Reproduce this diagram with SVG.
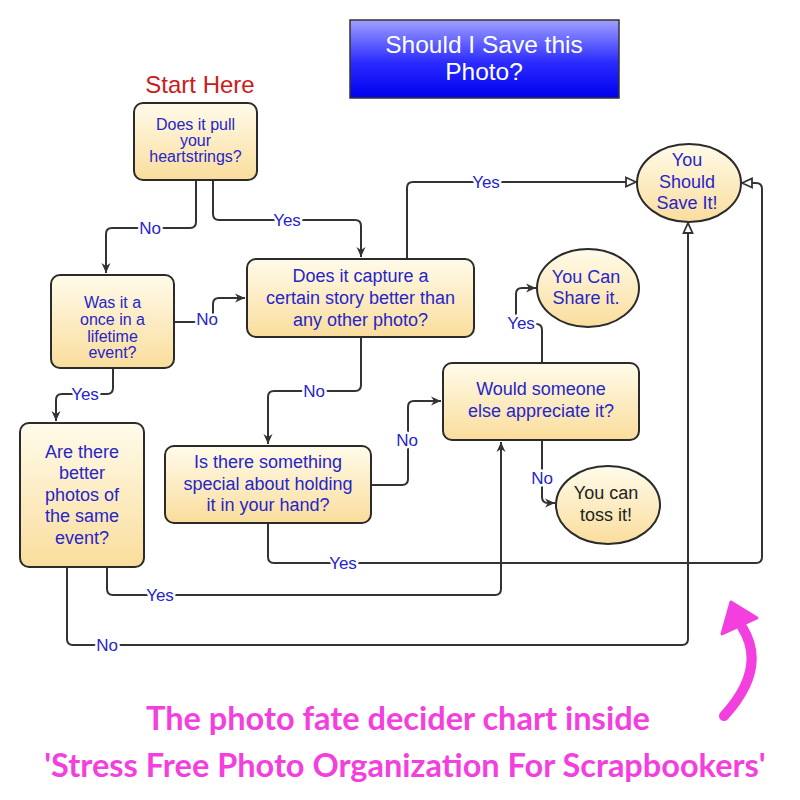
<svg xmlns="http://www.w3.org/2000/svg" width="800" height="800" viewBox="0 0 800 800">
<defs>
<linearGradient id="ng" x1="0" y1="0" x2="0" y2="1">
<stop offset="0" stop-color="#fffbea"/>
<stop offset="1" stop-color="#fadd9c"/>
</linearGradient>
<linearGradient id="tg" x1="0" y1="0" x2="0" y2="1">
<stop offset="0" stop-color="#a0a0ff"/>
<stop offset="0.55" stop-color="#2a2aff"/>
<stop offset="1" stop-color="#0000ee"/>
</linearGradient>
<marker id="a" markerUnits="userSpaceOnUse" markerWidth="12" markerHeight="12" viewBox="0 0 12 12" refX="11" refY="6" orient="auto">
<path d="M1,1.5 L11,6 L1,10.5 L4,6 z" fill="#333"/>
</marker>
<marker id="h" markerUnits="userSpaceOnUse" markerWidth="14" markerHeight="14" viewBox="0 0 14 14" refX="12" refY="7" orient="auto">
<path d="M2,2.5 L12,7 L2,11.5 z" fill="#fff" stroke="#333" stroke-width="1.8"/>
</marker>
<style>
.n{fill:url(#ng);stroke:#2b2b2b;stroke-width:2}
.t{font-family:"Liberation Sans",Arial,sans-serif;fill:#2626c8;text-anchor:middle}
.c{fill:none;stroke:#333;stroke-width:2}
.l{font-family:"Liberation Sans",Arial,sans-serif;font-size:17px;fill:#2626c8;text-anchor:middle;stroke:#fff;stroke-width:5;paint-order:stroke;stroke-linejoin:round}
.cap{font-family:Lato,"Open Sans",sans-serif;font-weight:bold;font-size:32.5px;fill:#f43fdf;text-anchor:middle}
</style>
</defs>
<rect width="800" height="800" fill="#fff"/>

<g id="title">
<rect x="350" y="20" width="269" height="78" fill="url(#tg)" stroke="#333" stroke-width="1.5"/>
<text x="484" y="53" font-family="'Liberation Sans',Arial,sans-serif" font-size="24.5" fill="#fff" text-anchor="middle">Should I Save this</text>
<text x="484" y="80" font-family="'Liberation Sans',Arial,sans-serif" font-size="24.5" fill="#fff" text-anchor="middle">Photo?</text>
</g>

<g id="start">
<text x="200" y="93" font-family="'Liberation Sans',Arial,sans-serif" font-size="24" fill="#cc1b1b" text-anchor="middle">Start Here</text>
</g>

<g id="connectors">
<path class="c" d="M196,180 V222 Q196,228 190,228 H112 Q106,228 106,234 V273" marker-end="url(#a)"/>
<path class="c" d="M213,180 V214 Q213,220 219,220 H355 Q361,220 361,226 V257" marker-end="url(#a)"/>
<path class="c" d="M174,322 H213 V304 Q213,298 219,298 H245" marker-end="url(#a)"/>
<path class="c" d="M113,368 V388 Q113,394 107,394 H62 Q56,394 56,400 V421" marker-end="url(#a)"/>
<path class="c" d="M407,259 V188 Q407,182 413,182 H636" marker-end="url(#h)"/>
<path class="c" d="M361,337 V385 Q361,391 355,391 H274 Q268,391 268,397 V444" marker-end="url(#a)"/>
<path class="c" d="M371,485 H402 Q408,485 408,479 V407 Q408,401 414,401 H441" marker-end="url(#a)"/>
<path class="c" d="M542,363 V330 Q542,324 536,324 H522 Q516,324 516,318 V294 Q516,288 522,288 H536" marker-end="url(#a)"/>
<path class="c" d="M542,440 V497 Q542,503 548,503 H555" marker-end="url(#a)"/>
<path class="c" d="M268,523 V557 Q268,563 274,563 H756 Q762,563 762,557 V189 Q762,183 756,183 H742" marker-end="url(#h)"/>
<path class="c" d="M107,567 V589 Q107,595 113,595 H495 Q501,595 501,589 V442" marker-end="url(#a)"/>
<path class="c" d="M67,567 V639 Q67,645 73,645 H682 Q688,645 688,639 V223" marker-end="url(#h)"/>
<text class="l" x="150" y="234">No</text>
<text class="l" x="287" y="226">Yes</text>
<text class="l" x="207" y="325">No</text>
<text class="l" x="85" y="400">Yes</text>
<text class="l" x="486" y="188">Yes</text>
<text class="l" x="314" y="397">No</text>
<text class="l" x="407" y="446">No</text>
<text class="l" x="521" y="329">Yes</text>
<text class="l" x="542" y="484">No</text>
<text class="l" x="343" y="569">Yes</text>
<text class="l" x="160" y="601">Yes</text>
<text class="l" x="107" y="651">No</text>
</g>

<g id="n1">
<rect class="n" x="134" y="103" width="123" height="77" rx="9"/>
<text class="t" font-size="16" x="195.5" y="130">Does it pull</text>
<text class="t" font-size="16" x="195.5" y="146">your</text>
<text class="t" font-size="16" x="195.5" y="162">heartstrings?</text>
</g>
<g id="n2">
<rect class="n" x="51" y="275" width="123" height="93" rx="9"/>
<text class="t" font-size="16" x="112.5" y="308">Was it a</text>
<text class="t" font-size="16" x="112.5" y="325">once in a</text>
<text class="t" font-size="16" x="112.5" y="342">lifetime</text>
<text class="t" font-size="16" x="112.5" y="358">event?</text>
</g>
<g id="n3">
<rect class="n" x="247" y="259" width="227" height="78" rx="9"/>
<text class="t" font-size="18" x="360.5" y="282">Does it capture a</text>
<text class="t" font-size="18" x="360.5" y="304">certain story better than</text>
<text class="t" font-size="18" x="360.5" y="326">any other photo?</text>
</g>
<g id="n4">
<rect class="n" x="20" y="423" width="124" height="144" rx="9"/>
<text class="t" font-size="18" x="82" y="458">Are there</text>
<text class="t" font-size="18" x="82" y="479">better</text>
<text class="t" font-size="18" x="82" y="501">photos of</text>
<text class="t" font-size="18" x="82" y="522">the same</text>
<text class="t" font-size="18" x="82" y="544">event?</text>
</g>
<g id="n5">
<rect class="n" x="165" y="446" width="206" height="77" rx="9"/>
<text class="t" font-size="18" x="268" y="468">Is there something</text>
<text class="t" font-size="18" x="268" y="490">special about holding</text>
<text class="t" font-size="18" x="268" y="511">it in your hand?</text>
</g>
<g id="n6">
<rect class="n" x="443" y="363" width="196" height="77" rx="9"/>
<text class="t" font-size="18" x="541" y="395">Would someone</text>
<text class="t" font-size="18" x="541" y="417">else appreciate it?</text>
</g>
<g id="save">
<ellipse class="n" cx="689" cy="183" rx="52" ry="39"/>
<text class="t" font-size="18" x="687" y="166">You</text>
<text class="t" font-size="18" x="687" y="188">Should</text>
<text class="t" font-size="18" x="687" y="209">Save It!</text>
</g>
<g id="share">
<ellipse class="n" cx="588" cy="288" rx="51" ry="39"/>
<text class="t" font-size="18" x="586" y="283">You Can</text>
<text class="t" font-size="18" x="586" y="304">Share it.</text>
</g>
<g id="toss">
<ellipse class="n" cx="608" cy="505" rx="52" ry="39"/>
<text class="t" font-size="18" x="606" y="499" style="fill:#222">You can</text>
<text class="t" font-size="18" x="606" y="521" style="fill:#222">toss it!</text>
</g>

<g id="caption">
<path d="M724,716 Q768,668 742,627" fill="none" stroke="#f43fdf" stroke-width="10" stroke-linecap="round"/>
<path d="M731,602 L757,618 L722,634 z" fill="#f43fdf" stroke="#f43fdf" stroke-width="3" stroke-linejoin="round"/>
<text class="cap" x="398" y="730">The photo fate decider chart inside</text>
<text class="cap" x="405" y="777">'Stress Free Photo Organization For Scrapbookers'</text>
</g>
</svg>
